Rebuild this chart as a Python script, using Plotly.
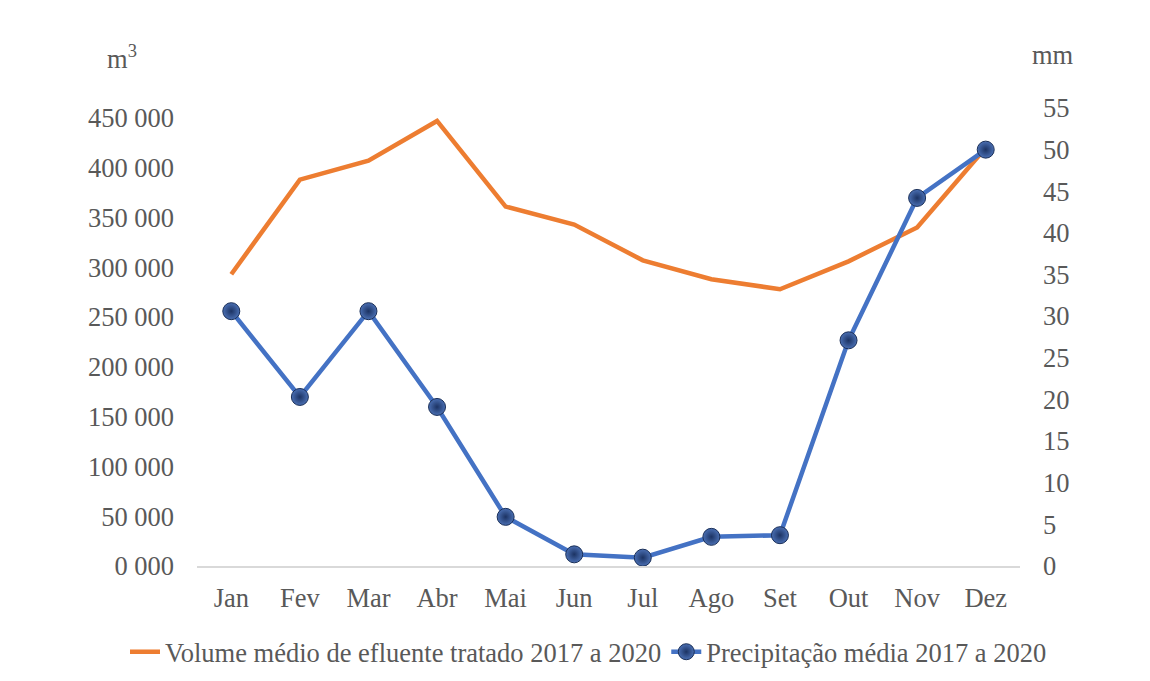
import plotly.graph_objects as go

meses = ["Jan", "Fev", "Mar", "Abr", "Mai", "Jun", "Jul", "Ago", "Set", "Out", "Nov", "Dez"]
volume_m3 = [293000, 388000, 407000, 447000, 361000, 343000, 307000, 288000, 278000, 306000, 340000, 420000]
precip_mm = [30.6, 20.3, 30.6, 19.1, 5.9, 1.4, 1.0, 3.5, 3.7, 27.1, 44.2, 50.0]

left_ticks = [0, 50000, 100000, 150000, 200000, 250000, 300000, 350000, 400000, 450000]
left_labels = ["0 000", "50 000", "100 000", "150 000", "200 000", "250 000",
               "300 000", "350 000", "400 000", "450 000"]
right_ticks = list(range(0, 56, 5))

FONT = "Liberation Serif"
GREY = "#595959"
FS = 26.5

# plot area in page pixels (page has an 8px body margin)
L, R, T, B = 197, 1020, 108, 566
OFF = 8

fig = go.Figure()
fig.add_trace(go.Scatter(
    x=meses, y=volume_m3, mode="lines", name="Volume médio de efluente tratado 2017 a 2020",
    line=dict(color="#ED7D31", width=4.5), yaxis="y"))
fig.add_trace(go.Scatter(
    x=meses, y=precip_mm, mode="lines+markers", name="Precipitação média 2017 a 2020",
    line=dict(color="#4472C4", width=4.5),
    marker=dict(size=17, color="#4A6FB3",
                gradient=dict(type="radial", color="#1C3363"),
                line=dict(color="#1A2F58", width=1)),
    yaxis="y2"))

fig.update_layout(
    width=1150, height=681,
    paper_bgcolor="white", plot_bgcolor="white",
    margin=dict(l=L - OFF, r=1150 - (R - OFF), t=T - OFF, b=681 - (B - OFF)),
    font=dict(family=FONT, size=FS, color=GREY),
    showlegend=True,
    # anchored left in the margin so the legend may use the full width on one row
    legend=dict(orientation="h", x=(125 - L) / (R - L), xanchor="left",
                y=-(652 - B) / (B - T), yanchor="middle",
                font=dict(family=FONT, size=FS, color=GREY),
                itemwidth=30, tracegroupgap=0),
    xaxis=dict(range=[-0.5, 11.5], showgrid=False, showline=True, linecolor="#D9D9D9",
               linewidth=1.5, ticks="", ticklabelstandoff=7,
               tickfont=dict(size=FS, color=GREY)),
    yaxis=dict(range=[0, 460000], tickvals=left_ticks, ticktext=left_labels,
               showgrid=False, zeroline=False, showline=False, ticks="",
               ticklabelstandoff=22, tickfont=dict(size=FS, color=GREY)),
    yaxis2=dict(range=[0, 55], tickvals=right_ticks, overlaying="y", side="right",
                showgrid=False, zeroline=False, showline=False, ticks="",
                ticklabelstandoff=22, tickfont=dict(size=FS, color=GREY)),
)

# unit labels at their page-pixel positions, converted to paper coords
for txt, px, py in [("m<sup>3</sup>", 122, 57), ("mm", 1053, 55)]:
    fig.add_annotation(text=txt, x=(px - L) / (R - L), y=1 - (py - T) / (B - T),
                       xref="paper", yref="paper", xanchor="center", yanchor="middle",
                       showarrow=False, font=dict(size=FS, color=GREY))

fig.write_html("out.html")
